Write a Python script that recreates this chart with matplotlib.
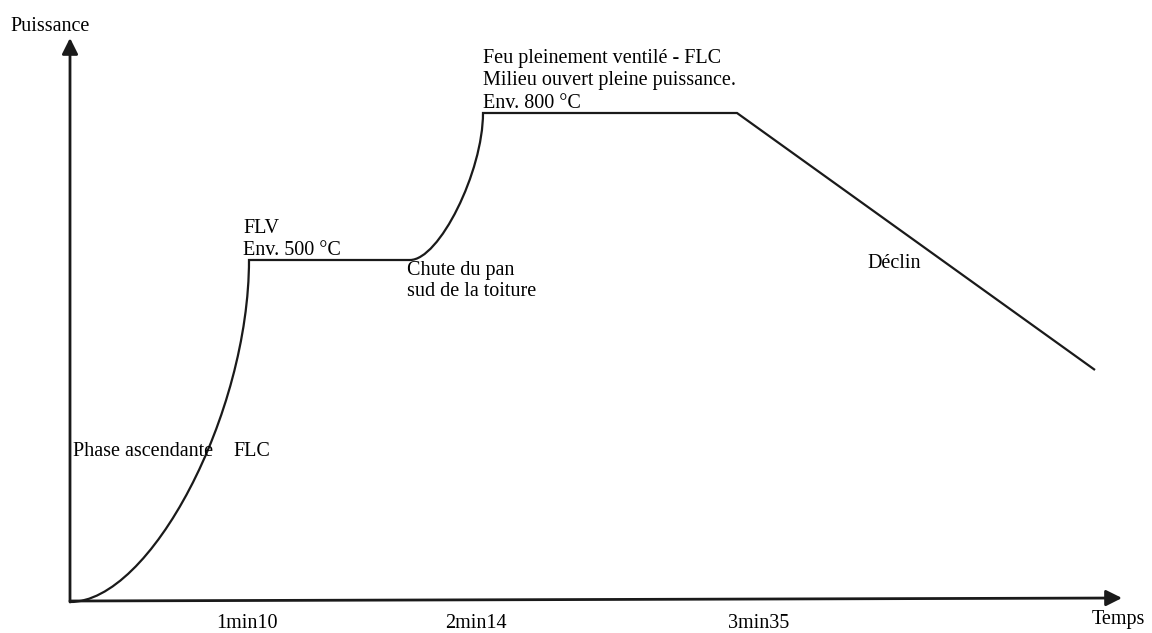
import matplotlib
matplotlib.use("Agg")
import matplotlib.pyplot as plt
from matplotlib.path import Path
from matplotlib.patches import PathPatch

plt.rcParams['font.family'] = ['Liberation Serif', 'DejaVu Serif']

# ---- data (schematic units: time position, power level) ----
# key points of the fire curve
origin = (0, 0)
flv_point = (179, 342)          # end of ascending phase (1min10)
plateau1_end = (340, 342)       # roof fall
flc_point = (413, 489)          # fully ventilated (2min14)
plateau2_end = (667, 489)       # start of decline (3min35)
decline_end = (1025, 232)

tick_labels = ["1min10", "2min14", "3min35"]
tick_pos = [177, 406, 689]

axis_x_end = (1052, 4)
axis_y_end = (0, 564)

FONT = 14.5

fig = plt.figure(figsize=(11.52, 6.33), dpi=100)
ax = fig.add_axes([0, 0, 1, 1])
ax.set_xlim(-70, 1082)
ax.set_ylim(-31, 602)
ax.axis('off')

# axes arrows
arrow_kw = dict(arrowstyle='-|>', mutation_scale=24, lw=2.0, color='#1a1a1a',
                shrinkA=0, shrinkB=0)
ax.annotate('', xy=axis_y_end, xytext=origin, arrowprops=arrow_kw)
ax.annotate('', xy=axis_x_end, xytext=(origin[0], origin[1] + 1), arrowprops=arrow_kw)


def bezier_ctrl(p0, p3, k):
    a = p3[0] - p0[0]
    h = p3[1] - p0[1]
    return (p0[0] + k * a, p0[1]), (p3[0], p3[1] - k * h)


c1a, c1b = bezier_ctrl(origin, flv_point, 0.45)
c2a, c2b = bezier_ctrl(plateau1_end, flc_point, 0.4)

verts = [origin, c1a, c1b, flv_point, plateau1_end, c2a, c2b, flc_point,
         plateau2_end, decline_end]
codes = [Path.MOVETO, Path.CURVE4, Path.CURVE4, Path.CURVE4, Path.LINETO,
         Path.CURVE4, Path.CURVE4, Path.CURVE4, Path.LINETO, Path.LINETO]
ax.add_patch(PathPatch(Path(verts, codes), fill=False, lw=1.6, color='#1a1a1a',
                       joinstyle='miter', capstyle='butt'))

# tick labels
for lab, p in zip(tick_labels, tick_pos):
    ax.text(p, -26, lab, ha='center', va='baseline', fontsize=FONT)

ax.text(-60, 571, "Puissance", ha='left', va='baseline', fontsize=FONT)
ax.text(1022, -22, "Temps", ha='left', va='baseline', fontsize=FONT)

ax.text(173, 369, "FLV", ha='left', va='baseline', fontsize=FONT)
ax.text(173, 347, "Env. 500 °C", ha='left', va='baseline', fontsize=FONT)

ax.text(337, 327, "Chute du pan", ha='left', va='baseline', fontsize=FONT)
ax.text(337, 306, "sud de la toiture", ha='left', va='baseline', fontsize=FONT)

ax.text(413, 539, "Feu pleinement ventilé - FLC", ha='left', va='baseline', fontsize=FONT)
ax.text(413, 517, "Milieu ouvert pleine puissance.", ha='left', va='baseline', fontsize=FONT)
ax.text(413, 494, "Env. 800 °C", ha='left', va='baseline', fontsize=FONT)

ax.text(3, 146, "Phase ascendante", ha='left', va='baseline', fontsize=FONT)
ax.text(163, 146, "FLC", ha='left', va='baseline', fontsize=FONT)

ax.text(797, 334, "Déclin", ha='left', va='baseline', fontsize=FONT)

fig.savefig("out.png", dpi=100)
